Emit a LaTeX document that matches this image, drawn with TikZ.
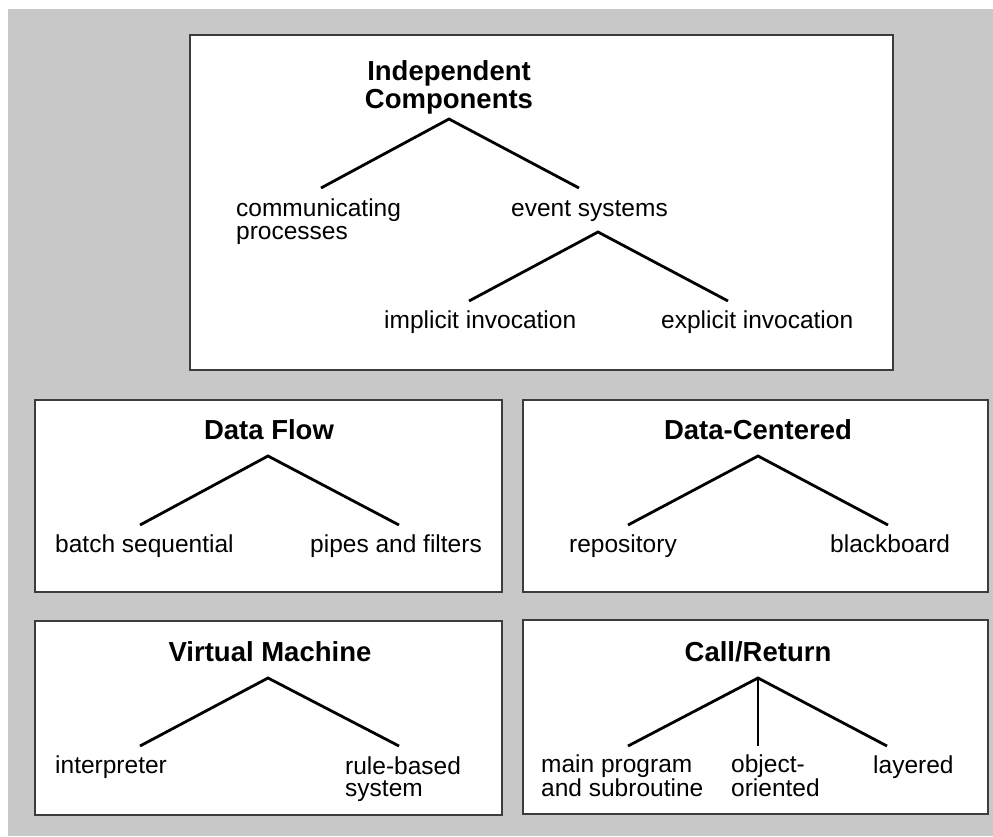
\documentclass[tikz,border=0pt]{standalone}
\usepackage{fontspec}
\setmainfont{Liberation Sans}
\definecolor{bggray}{RGB}{200,200,200}
\definecolor{boxgray}{RGB}{60,60,60}
\newcommand\leaffont{\fontsize{24.5}{22.5}\selectfont}
\newcommand\ttlfont{\fontsize{27.5}{28}\selectfont\bfseries}
\begin{document}
\begin{tikzpicture}[x=1pt,y=-1pt,
  panel/.style={draw=boxgray, line width=2pt, fill=white},
  leaf/.style={font=\leaffont, inner sep=0pt, anchor=base west, align=left},
  ttl/.style={font=\ttlfont, inner sep=0pt, anchor=base, align=center},
  leg/.style={line width=2.8pt, draw=black, line join=miter}]
\useasboundingbox (0,0) rectangle (993,836);
\fill[bggray] (8,9) rectangle (993,836);
% panels
\draw[panel] (190,35) rectangle (893,370);
\draw[panel] (35,400) rectangle (502,592);
\draw[panel] (523,400) rectangle (988,592);
\draw[panel] (35,621) rectangle (502,815);
\draw[panel] (523,620) rectangle (988,814);
% Independent Components (two-line nodes: base = last line)
\node[ttl] (ic) at (449,108) {Independent\\Components};
\node[leaf] (cp) at (236,239) {communicating\\processes};
\node[leaf] (es) at (511,216.5) {event systems};
\node[leaf] (ii) at (384,328) {implicit invocation};
\node[leaf] (ei) at (661,328) {explicit invocation};
\coordinate (icA) at (449,119);
\coordinate (icL) at (321,188);
\coordinate (icR) at (579,188);
\coordinate (esA) at (598,232);
\coordinate (esL) at (469,301);
\coordinate (esR) at (728,301);
\draw[leg] (icL) -- (icA) -- (icR);
\draw[leg] (esL) -- (esA) -- (esR);
% Data Flow
\node[ttl] (df) at (269,439) {Data Flow};
\node[leaf] (bs) at (55,552) {batch sequential};
\node[leaf] (pf) at (310,552) {pipes and filters};
\coordinate (dfA) at (268,456);
\coordinate (dfL) at (140,525);
\coordinate (dfR) at (399,525);
\draw[leg] (dfL) -- (dfA) -- (dfR);
% Data-Centered
\node[ttl] (dc) at (758,439) {Data-Centered};
\node[leaf] (rp) at (569,552) {repository};
\node[leaf] (bb) at (830,552) {blackboard};
\coordinate (dcA) at (758,456);
\coordinate (dcL) at (628,525);
\coordinate (dcR) at (888,525);
\draw[leg] (dcL) -- (dcA) -- (dcR);
% Virtual Machine
\node[ttl] (vm) at (270,661) {Virtual Machine};
\node[leaf] (ip) at (55,773) {interpreter};
\node[leaf] (rb) at (345,796.5) {rule-based\\system};
\coordinate (vmA) at (268,678);
\coordinate (vmL) at (140,746);
\coordinate (vmR) at (399,746);
\draw[leg] (vmL) -- (vmA) -- (vmR);
% Call/Return
\node[ttl] (cr) at (758,661) {Call/Return};
\node[leaf] (mp) at (541,796.5) {main program\\and subroutine};
\node[leaf] (oo) at (731,796.5) {object-\\oriented};
\node[leaf] (ly) at (873,773) {layered};
\coordinate (crA) at (758,678);
\coordinate (crL) at (628,746);
\coordinate (crM) at (758,746);
\coordinate (crR) at (887,746);
\draw[leg] (crL) -- (crA) -- (crR);
\draw[leg] (crA) -- (crM);
\end{tikzpicture}
\end{document}
